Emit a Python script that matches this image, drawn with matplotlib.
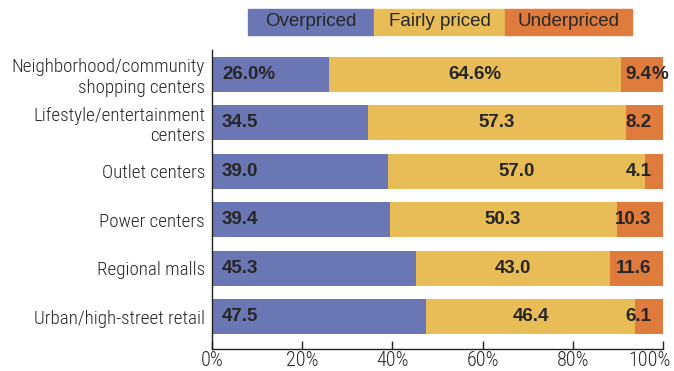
import matplotlib
matplotlib.use("Agg")
import matplotlib.pyplot as plt
from matplotlib import font_manager
from matplotlib.patches import Rectangle
from matplotlib.transforms import ScaledTranslation

categories = [
    "Neighborhood/community\nshopping centers",
    "Lifestyle/entertainment\ncenters",
    "Outlet centers",
    "Power centers",
    "Regional malls",
    "Urban/high-street retail",
]
overpriced = [26.0, 34.5, 39.0, 39.4, 45.3, 47.5]
fairly_priced = [64.6, 57.3, 57.0, 50.3, 43.0, 46.4]
underpriced = [9.4, 8.2, 4.1, 10.3, 11.6, 6.1]
series_names = ["Overpriced", "Fairly priced", "Underpriced"]
x_ticks = [0, 20, 40, 60, 80, 100]
x_tick_labels = ["0%", "20%", "40%", "60%", "80%", "100%"]

colors = ["#6B76B4", "#E8BD57", "#E07B3E"]
text_dark = "#262626"

available = {f.name for f in font_manager.fontManager.ttflist}
narrow = "Liberation Sans"
for cand in ["Roboto Condensed", "Liberation Sans Narrow", "Open Sans Condensed"]:
    if cand in available:
        narrow = cand
        break

fig = plt.figure(figsize=(6.74, 3.71), dpi=100)
W, H = 674, 371
ax = fig.add_axes([212 / W, 1 - 349 / H, (663 - 212) / W, (349 - 50) / H])

y = list(range(len(categories)))
bar_h = 0.72
left = [0.0] * len(categories)
for vals, col in zip([overpriced, fairly_priced, underpriced], colors):
    ax.barh(y, vals, left=left, height=bar_h, color=col, edgecolor="none")
    left = [l + v for l, v in zip(left, vals)]

lab_kw = dict(fontsize=13.5, fontweight="bold", color=text_dark,
              family="Liberation Sans", va="center")
for i in y:
    suffix = "%" if i == 0 else ""
    ax.text(2.2, i, f"{overpriced[i]:.1f}{suffix}", ha="left", **lab_kw)
    mid = overpriced[i] + fairly_priced[i] / 2
    ax.text(mid, i, f"{fairly_priced[i]:.1f}{suffix}", ha="center", **lab_kw)
    ax.text(97.4, i, f"{underpriced[i]:.1f}", ha="right", **lab_kw)
    if suffix:
        ax.text(97.4, i, suffix, ha="left", **lab_kw)

ax.set_xlim(0, 100)
ax.set_ylim(5.67, -0.5)
ax.set_yticks(y)
ax.set_yticklabels(categories, family=narrow, fontsize=13.7, color=text_dark,
                   linespacing=1.2, fontweight="light")
ax.tick_params(axis="y", length=0, pad=5)
ax.set_xticks(x_ticks)
ax.set_xticklabels(x_tick_labels, family=narrow, fontsize=14.5, color=text_dark,
                   fontweight="light")
ax.tick_params(axis="x", direction="in", length=6, width=1, color="#222222", pad=1.5)
# keep the last tick label inside the figure
last = ax.get_xticklabels()[-1]
last.set_transform(last.get_transform() + ScaledTranslation(-13 / 100, 0, fig.dpi_scale_trans))
for s in ["top", "right"]:
    ax.spines[s].set_visible(False)
for s in ["left", "bottom"]:
    ax.spines[s].set_color("#222222")
    ax.spines[s].set_linewidth(1)

# Legend drawn as a strip of coloured boxes with labels inside
edges = [248, 374, 505, 632]
for k, name in enumerate(series_names):
    x0, x1 = edges[k], edges[k + 1]
    fig.patches.append(Rectangle((x0 / W, 1 - 35 / H), (x1 - x0) / W, 26 / H,
                                 transform=fig.transFigure, color=colors[k],
                                 zorder=0))
    fig.text((x0 + x1) / 2 / W, 1 - 22 / H, name, ha="center", va="center",
             family="Liberation Sans", fontsize=13.5, color=text_dark)

fig.savefig("out.png", dpi=100)
